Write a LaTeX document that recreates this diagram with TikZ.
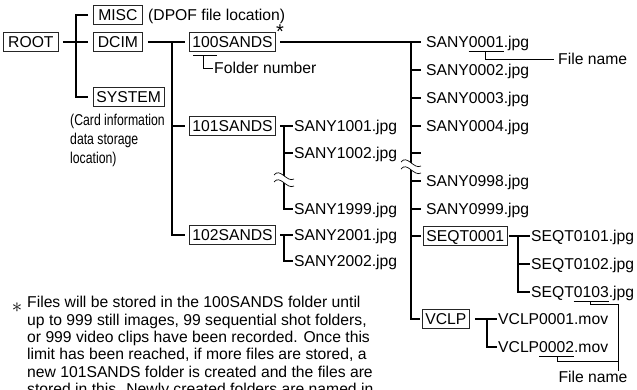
\documentclass[tikz,border=0pt]{standalone}
\usepackage{fontspec}
\setmainfont{Liberation Sans}
\newfontfamily\narrowfont{Liberation Sans}[FakeStretch=0.78]
\begin{document}
\begin{tikzpicture}[x=1pt,y=-1pt,
  font=\fontsize{15.7}{19}\selectfont,
  box/.style={draw=black!85, line width=0.8pt, inner xsep=3pt, inner ysep=4pt,
    text height=11.2pt, text depth=0pt, anchor=west},
  file/.style={inner sep=0pt, text height=11.2pt, text depth=0pt, anchor=west},
  tree/.style={line width=1.6pt},
  lead/.style={line width=0.7pt},
  squig/.pic={
    \fill[white] (-10,-5) .. controls (-4,-13) and (3,3) .. (10,-1)
       -- (10,6) .. controls (3,10) and (-4,-6) .. (-10,2) -- cycle;
    \draw[lead] (-10,-5) .. controls (-4,-13) and (3,3) .. (10,-1);
    \draw[lead] (-10,2) .. controls (-4,-6) and (3,10) .. (10,6);
  }]
\useasboundingbox (0,0) rectangle (637,390);

% level 0/1
\node[box, minimum width=55pt] (root) at (3,42) {ROOT};
\node[box, minimum width=49pt] (misc) at (93,15) {MISC};
\node[file] (dpof) at (148,15) {(DPOF file location)};
\node[box, minimum width=49pt] (dcim) at (93,42) {DCIM};
\node[box] (system) at (93,97) {SYSTEM};
\node[inner sep=0pt, align=left, anchor=north west,
  font=\narrowfont\fontsize{15.7}{19}\selectfont] (card) at (70,114.2)
  {(Card information\\data storage\\location)};

% folders
\node[box] (s100) at (189,42) {100SANDS};
\node[inner sep=0pt, anchor=base, font=\fontsize{20}{20}\selectfont] (star) at (280,39) {*};
\node[file] (fnum) at (214,68) {Folder number};
\node[box] (s101) at (189,126) {101SANDS};
\node[box] (s102) at (189,235) {102SANDS};

% 101 / 102 files
\node[file] (a1001) at (294,126) {SANY1001.jpg};
\node[file] (a1002) at (294,153) {SANY1002.jpg};
\node[file] (a1999) at (294,209) {SANY1999.jpg};
\node[file] (a2001) at (294,235) {SANY2001.jpg};
\node[file] (a2002) at (294,261) {SANY2002.jpg};

% 100 files
\node[file] (b0001) at (426,42) {SANY0001.jpg};
\node[file] (b0002) at (426,70) {SANY0002.jpg};
\node[file] (b0003) at (426,98) {SANY0003.jpg};
\node[file] (b0004) at (426,126) {SANY0004.jpg};
\coordinate (blank) at (421,153);
\node[file] (b0998) at (426,181) {SANY0998.jpg};
\node[file] (b0999) at (426,209) {SANY0999.jpg};
\node[box] (seqt) at (423,236) {SEQT0001};
\node[box] (vclp) at (422,319) {VCLP};

\node[file] (c0101) at (531,236) {SEQT0101.jpg};
\node[file] (c0102) at (531,264) {SEQT0102.jpg};
\node[file] (c0103) at (531,292) {SEQT0103.jpg};
\node[file] (d0001) at (498,319) {VCLP0001.mov};
\node[file] (d0002) at (498,347) {VCLP0002.mov};

\node[file] (fname1) at (558,59) {File name};
\node[file, anchor=center] (fname2) at (593,377) {File name};

% footnote
\node[inner sep=0pt, anchor=base, font=\fontsize{21}{21}\selectfont] (ast) at (17,312) {$\ast$};
\node[file] (n1) at (27,302)   {Files will be stored in the 100SANDS folder until};
\node[file] (n2) at (27,319.4) {up to 999 still images, 99 sequential shot folders,};
\node[file] (n3) at (27,336.8) {or 999 video clips have been recorded. Once this};
\node[file] (n4) at (27,354.2) {limit has been reached, if more files are stored, a};
\node[file] (n5) at (27,371.6) {new 101SANDS folder is created and the files are};
\node[file] (n6) at (27,389)   {stored in this. Newly created folders are named in};

% junctions
\coordinate (j0) at (76,42);
\coordinate (j1) at (172,42);
\coordinate (j2) at (411,42);
\coordinate (j3) at (284,126);
\coordinate (j4) at (284,235);
\coordinate (j5) at (518,236);
\coordinate (j6) at (487,319);

% tree lines
\draw[tree] ([xshift=4]root.east) -- ([xshift=-5]dcim.west);
\draw[tree] ([xshift=-5]misc.west) -| (j0) |- ([xshift=-5]system.west);

\draw[tree] ([xshift=5]dcim.east) -- ([xshift=-4]s100.west);
\draw[tree] (j1) |- ([xshift=-4]s102.west);
\draw[tree] (j1 |- s101) -- ([xshift=-4]s101.west);

\draw[tree] ([xshift=4]s101.east) -- ([xshift=-1]a1001.west);
\draw[tree] (j3) |- ([xshift=-1]a1999.west);
\draw[tree] (j3 |- a1002) -- ([xshift=-1]a1002.west);
\draw[tree] ([xshift=4]s102.east) -- ([xshift=-1]a2001.west);
\draw[tree] (j4) |- ([xshift=-1]a2002.west);

\draw[tree] ([xshift=4]s100.east) -- ([xshift=-5]b0001.west);
\draw[tree] (j2) |- ([xshift=-2]vclp.west);
\foreach \n in {b0002,b0003,b0004,b0998,b0999}
  \draw[tree] (j2 |- \n) -- ([xshift=-5]\n.west);
\draw[tree] (j2 |- blank) -- (blank);
\draw[tree] (j2 |- seqt) -- ([xshift=-2]seqt.west);

\draw[tree] ([xshift=2]seqt.east) -- ([xshift=-1]c0101.west);
\draw[tree] (j5) |- ([xshift=-1]c0103.west);
\draw[tree] (j5 |- c0102) -- ([xshift=-1]c0102.west);

\draw[tree] ([xshift=5]vclp.east) -- ([xshift=-1]d0001.west);
\draw[tree] (j6) |- ([xshift=-1]d0002.west);

% break marks
\pic at (411,167) {squig};
\pic at (284,180) {squig};

% leaders
\coordinate (ua) at ([shift={(4,3.2)}]s100.south west);
\coordinate (ub) at ([shift={(28,3.2)}]s100.south west);
\coordinate (um) at ([shift={(14,3.2)}]s100.south west);
\draw[lead] (ua) -- (ub);
\draw[lead] (um) |- ([xshift=-1]fnum.west);

\coordinate (va) at ([shift={(42.7,3.2)}]b0001.south west);
\coordinate (vb) at ([shift={(77.6,3.2)}]b0001.south west);
\coordinate (vm) at ([shift={(59,3.2)}]b0001.south west);
\draw[lead] (va) -- (vb);
\draw[lead] (vm) |- ([xshift=-4]fname1.west);

\coordinate (wa) at ([shift={(42.7,3.2)}]c0103.south west);
\coordinate (wb) at ([shift={(77.6,3.2)}]c0103.south west);
\coordinate (wm) at ([shift={(59,3.2)}]c0103.south west);
\coordinate (xa) at ([shift={(41,3.2)}]d0002.south west);
\coordinate (xb) at ([shift={(76,3.2)}]d0002.south west);
\coordinate (xm) at ([shift={(59,3.2)}]d0002.south west);
\coordinate (fj) at (618,304);
\draw[lead] (wa) -- (wb);
\draw[lead] (xa) -- (xb);
\draw[lead] (wm) |- (fj);
\draw[lead] (xm) |- (fj |- 0,361);
\draw[lead] (fj) -- (fj |- fname2.north);
\end{tikzpicture}
\end{document}
